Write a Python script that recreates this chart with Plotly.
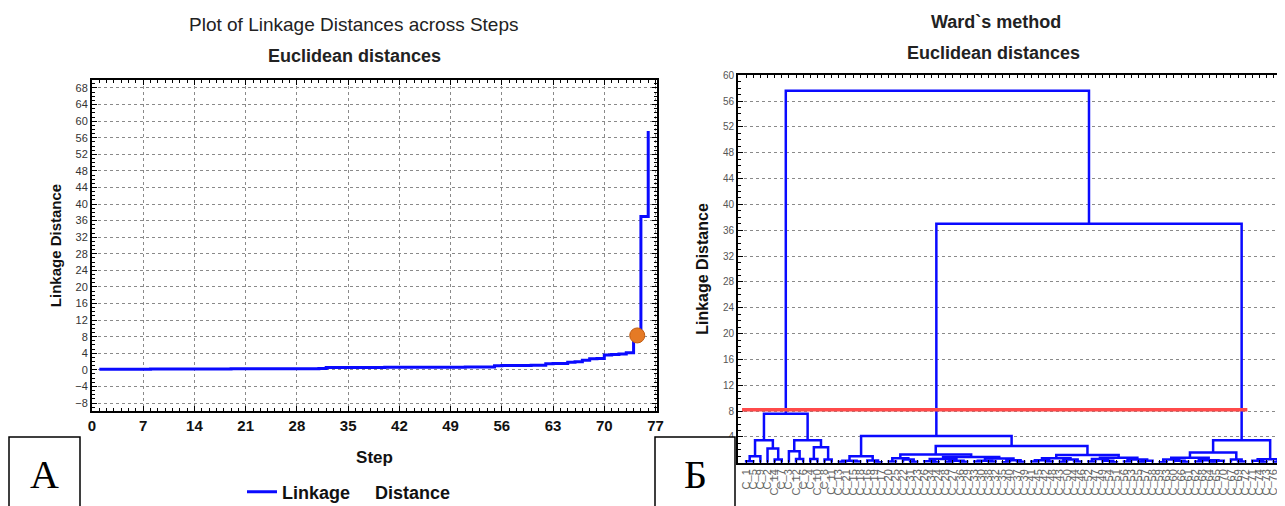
import plotly.graph_objects as go

# ---------------- data: left panel (linkage distance per step) ----------------
steps = list(range(1, 77))
linkage_distance = [
    0.12, 0.13, 0.14, 0.15, 0.15, 0.16, 0.17, 0.18, 0.18, 0.19, 0.20, 0.20, 0.21, 0.21, 0.22, 0.22,
    0.23, 0.23, 0.24, 0.24, 0.25, 0.25, 0.26, 0.26, 0.27, 0.27, 0.28, 0.28, 0.29, 0.29, 0.30,
    0.55, 0.56, 0.57, 0.57, 0.58, 0.58, 0.59, 0.59, 0.60, 0.60, 0.61, 0.61, 0.62, 0.62, 0.63,
    0.63, 0.64, 0.65, 0.65, 0.66, 0.67, 0.68, 0.69,
    1.00, 1.02, 1.04, 1.05, 1.06, 1.08, 1.10,
    1.50, 1.52, 1.55,
    1.85, 1.95,
    2.30,
    2.65, 2.75,
    3.60, 3.70, 3.80, 4.10,
    7.60, 37.0, 57.6,
]
cutoff_step = [74.5]
cutoff_distance = [8.3]

x_ticks_left = [0, 7, 14, 21, 28, 35, 42, 49, 56, 63, 70, 77]

# ---------------- data: right panel (Ward dendrogram) ----------------
leaf_labels = ["C_" + str(v) for v in [
    1, 5, 9, 2, 14, 7, 3, 12, 6, 4, 10, 8, 11,
    13, 21, 15, 18, 16, 19, 17,
    20, 25, 22, 31, 23, 26, 34, 24, 28, 27, 36, 29, 33, 30, 38, 32, 35, 40, 37, 39,
    41, 45, 42, 48, 43, 50, 44, 46, 52, 47, 49, 54, 51, 56, 53, 55, 57, 58,
    59, 63, 60, 66, 61, 62, 68, 64, 65, 70, 67, 69, 72, 71, 74, 73, 76, 75, 77,
]]
# each cluster = contiguous run of leaves (in dendrogram order) and its merge height
cluster_first = [0, 0, 4, 3, 0, 7, 6, 9, 11, 9, 6, 0,
                 13, 15, 13, 18, 17, 13,
                 20, 23, 22, 20, 26, 25, 28, 30, 28, 25, 32, 34, 32, 36, 38, 36, 32, 25, 20,
                 40, 42, 40, 44, 46, 44, 40, 48, 51, 50, 48, 53, 55, 55, 53, 48, 40,
                 20, 13,
                 58, 61, 60, 58, 63, 65, 65, 63, 58, 69, 68, 58, 72, 71, 74, 74, 71, 58,
                 13, 0]
cluster_last = [1, 2, 5, 5, 5, 8, 8, 10, 12, 12, 12, 12,
                14, 16, 16, 19, 19, 19,
                21, 24, 24, 24, 27, 27, 29, 31, 31, 31, 33, 35, 35, 37, 39, 39, 39, 39, 39,
                41, 43, 43, 45, 47, 47, 47, 49, 52, 52, 52, 54, 56, 57, 57, 57, 57,
                57, 57,
                59, 62, 62, 62, 64, 66, 67, 67, 67, 70, 70, 70, 73, 73, 75, 76, 76, 76,
                76, 76]
cluster_height = [0.25, 1.0, 0.5, 2.2, 3.5, 0.6, 1.8, 0.6, 0.5, 2.4, 3.5, 7.6,
                  0.15, 0.2, 0.3, 0.1, 0.35, 1.0,
                  0.2, 0.15, 0.5, 0.7, 0.1, 0.25, 0.15, 0.15, 0.3, 0.6, 0.2, 0.2, 0.3, 0.1, 0.15, 0.4, 0.65, 0.9, 1.3,
                  0.2, 0.2, 0.4, 0.15, 0.2, 0.5, 0.7, 0.2, 0.1, 0.3, 0.6, 0.2, 0.15, 0.3, 0.5, 0.8, 1.2,
                  2.6, 4.15,
                  0.1, 0.15, 0.3, 0.5, 0.2, 0.1, 0.3, 0.4, 0.8, 0.2, 0.5, 1.6, 0.1, 0.3, 0.1, 0.2, 0.55, 3.5,
                  37.0, 57.6]
cut_distance = 8.2

# ---------------- build dendrogram links ----------------
n_leaves = len(leaf_labels)
leaf_pos = list(range(1, n_leaves + 1))
node_x = {(k, k): leaf_pos[k] for k in range(n_leaves)}
node_h = {(k, k): 0.0 for k in range(n_leaves)}
order = sorted(range(len(cluster_first)), key=lambda i: cluster_last[i] - cluster_first[i])
dx, dy = [], []
for i in order:
    a, b, h = cluster_first[i], cluster_last[i], cluster_height[i]
    for m in range(a, b):
        if (a, m) in node_x and (m + 1, b) in node_x:
            break
    xl, hl = node_x[(a, m)], node_h[(a, m)]
    xr, hr = node_x[(m + 1, b)], node_h[(m + 1, b)]
    dx += [xl, xl, xr, xr, None]
    dy += [hl, h, h, hr, None]
    node_x[(a, b)] = (xl + xr) / 2
    node_h[(a, b)] = h

# page body has an 8px margin: figure placed at (8, 8) in the window
OFF = 8
W, H = 1285 - OFF, 506 - OFF


def px(p):
    return (p - OFF) / W


def py(p):
    return 1 - (p - OFF) / H


BLUE = "#0a0aff"
FONT = "Liberation Sans, Arial, sans-serif"

fig = go.Figure()
fig.add_trace(go.Scatter(
    x=steps, y=linkage_distance, mode="lines", line=dict(color=BLUE, width=3, shape="hv"),
    name="<b>Linkage\u00a0\u00a0\u00a0\u00a0\u00a0Distance</b>", xaxis="x", yaxis="y", showlegend=True,
))
fig.add_trace(go.Scatter(
    x=cutoff_step, y=cutoff_distance, mode="markers",
    marker=dict(color="#e57a25", size=15, line=dict(color="#c05a10", width=1)),
    xaxis="x", yaxis="y", showlegend=False,
))
fig.add_trace(go.Scatter(
    x=dx, y=dy, mode="lines", line=dict(color=BLUE, width=2.5),
    xaxis="x2", yaxis="y2", showlegend=False,
))

fig.add_shape(type="line", xref="x2", yref="y2", x0=0.43, x1=71.3, y0=cut_distance, y1=cut_distance,
              line=dict(color="#ff4a4a", width=3.5))

grid = dict(showgrid=True, gridcolor="#8a8a8a", griddash="dot", gridwidth=1, zeroline=False,
            automargin=False)

fig.update_layout(
    width=W, height=H, margin=dict(l=0, r=0, t=0, b=0, autoexpand=False),
    paper_bgcolor="white", plot_bgcolor="white",
    font=dict(family=FONT, color="#111"),
    xaxis=dict(domain=[px(92), px(657)], range=[0, 77.2], tickvals=x_ticks_left,
               ticktext=["<b>%d</b>" % v for v in x_ticks_left],
               tickfont=dict(size=15, color="#111", family=FONT), ticks="inside", ticklen=5,
               tickcolor="black", showline=True, linecolor="black", linewidth=2, mirror="ticks",
               minor=dict(ticks="inside", ticklen=3, dtick=1, tickcolor="black"),
               title=dict(text="<b>Step</b>", font=dict(size=17, color="#111"), standoff=18),
               anchor="y", **grid),
    yaxis=dict(domain=[py(411.3), py(79.7)], range=[-10, 70], tick0=0, dtick=4,
               tickfont=dict(size=11, color="#333", family=FONT), ticks="inside", ticklen=5,
               tickcolor="black", showline=True, linecolor="black", linewidth=2, mirror="ticks",
               minor=dict(ticks="inside", ticklen=3, dtick=1, tickcolor="black"),
               title=dict(text="<b>Linkage Distance</b>", font=dict(size=15, color="#111"), standoff=10),
               anchor="x", **grid),
    xaxis2=dict(domain=[px(738), 1.0], range=[-0.14, 77.72 - OFF / 7.026], tickvals=leaf_pos,
                ticktext=leaf_labels,
                tickangle=-90, tickfont=dict(size=11, color="#666", family=FONT),
                ticks="inside", ticklen=3, tickcolor="black",
                showline=True, linecolor="black", linewidth=2, mirror="ticks",
                showgrid=False, zeroline=False, anchor="y2", automargin=False),
    yaxis2=dict(domain=[py(462.8), py(75.2)], range=[0, 60], tick0=0, dtick=4,
                tickfont=dict(size=10, color="#555", family=FONT), ticks="inside", ticklen=5,
                tickcolor="black", showline=True, linecolor="black", linewidth=2, mirror=False,
                minor=dict(ticks="inside", ticklen=3, dtick=1, tickcolor="black"),
                title=dict(text="<b>Linkage Distance</b>", font=dict(size=16, color="#111"), standoff=10),
                anchor="x2", **grid),
    legend=dict(x=px(242), y=py(492), xanchor="left", yanchor="middle", orientation="h",
                bgcolor="rgba(0,0,0,0)", itemwidth=30,
                font=dict(size=18, color="#111", family=FONT)),
)

annos = [
    ("Plot of Linkage Distances across Steps", 354, 25, 19, False),
    ("Euclidean distances", 354, 56, 18, True),
    ("Ward`s method", 996, 22, 18, True),
    ("Euclidean distances", 993, 53, 18, True),
]
for text, ax, ay, size, bold in annos:
    fig.add_annotation(text=("<b>%s</b>" % text) if bold else text, x=px(ax), y=py(ay),
                       xref="paper", yref="paper", showarrow=False, xanchor="center", yanchor="middle",
                       font=dict(size=size, color="#222", family=FONT))

for letter, x0, x1 in [("А", 9, 80), ("Б", 655, 735)]:
    fig.add_shape(type="rect", xref="paper", yref="paper", x0=px(x0), x1=px(x1), y0=-0.1, y1=py(437),
                  line=dict(color="black", width=1.5), fillcolor="white", layer="above")
    fig.add_annotation(text=letter, x=px((x0 + x1) / 2), y=py(474), xref="paper", yref="paper",
                       showarrow=False, xanchor="center", yanchor="middle",
                       font=dict(size=40, color="black", family="Liberation Serif, Times New Roman, serif"))

fig.write_html("out.html")
